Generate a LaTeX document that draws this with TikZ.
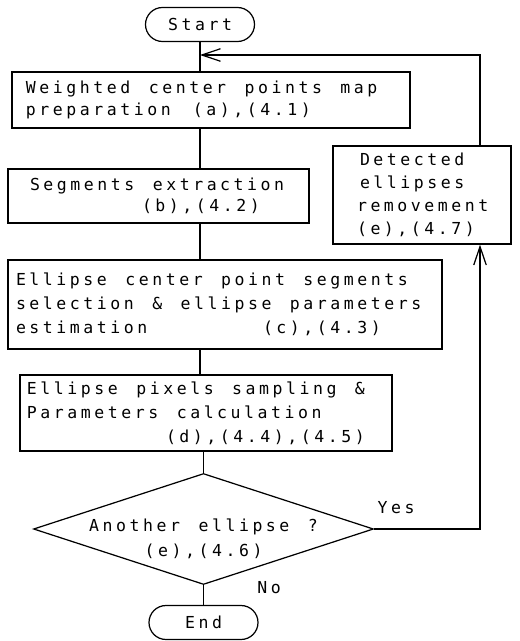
\documentclass[tikz,border=0pt]{standalone}
\usepackage{fontspec}
\newfontfamily\plotter[LetterSpace=21.5,WordSpace=1.36]{DejaVu Sans Mono}
\usetikzlibrary{shapes.geometric,arrows.meta}

\begin{document}
\begin{tikzpicture}[
        font=\plotter\fontsize{9.4}{13.6}\selectfont,
        line width=.7pt,
        procbox/.style={draw, rectangle, align=left, inner ysep=0pt,
            execute at begin node={\spaceskip=0pt\xspaceskip=0pt\relax}},
        termbox/.style={draw, rectangle, rounded corners=.34cm, minimum width=2.18cm, minimum height=.68cm},
        decision/.style={draw, diamond, aspect=3, minimum width=6.8cm, minimum height=2.22cm, inner sep=0pt},
        arr/.style={-{Straight Barb[length=.37cm,width=.25cm]}}
    ]
        \useasboundingbox (0,0) rectangle (10.38,-12.82);

        \node[termbox] (start) at (4.0,-.49) {Start};

        \node[procbox, font=\plotter\fontsize{9.4}{12.2}\selectfont, inner xsep=.28cm, text width=7.40cm, minimum height=1.12cm] (prep) at (4.22,-2.0)
            {Weighted~center~points~map\\\makebox[3.34cm][l]{preparation}(a),(4.1)};

        \node[procbox, font=\plotter\fontsize{9.4}{12.2}\selectfont, inner xsep=.44cm, text width=5.14cm, minimum height=1.08cm] (seg) at (3.17,-3.92)
            {Segments~extraction\\\hspace*{2.24cm}(b),(4.2)};

        \node[procbox, inner xsep=.16cm, text width=8.36cm, minimum height=1.78cm] (sel) at (4.50,-6.09)
            {Ellipse~center~point~segments\\selection~\&~ellipse~parameters\\\makebox[4.94cm][l]{estimation}(c),(4.3)};

        \node[procbox, inner xsep=.14cm, text width=7.16cm, minimum height=1.52cm] (calc) at (4.12,-8.26)
            {Ellipse~pixels~sampling~\&\\Parameters~calculation\\\hspace*{2.78cm}(d),(4.4),(4.5)};

        \node[decision, label={[align=center, yshift=-.2cm, font=\plotter\fontsize{9.4}{14.2}\selectfont]center:{Another~ellipse~?\\(e),(4.6)}}] (another) at (4.07,-10.58) {};

        \node[termbox] (finish) at (4.07,-12.45) {End};

        \node[procbox, font=\plotter\fontsize{9.4}{13.2}\selectfont, inner xsep=.54cm, text width=2.48cm, minimum height=1.96cm] (removal) at (8.44,-3.90)
            {Detected\\ellipses\\\hspace*{-.06cm}removement\\\hspace*{-.06cm}(e),(4.7)};

        \node (yes) at (7.92,-10.16) {Yes};
        \node (no) at (5.38,-11.76) {No};

        \coordinate (loopx) at (9.60,0);
        \coordinate (merge) at (4.0,-1.10);

        \draw (start.south) -- (start.south |- prep.north);
        \draw (start.south |- prep.south) -- (start.south |- seg.north);
        \draw (start.south |- seg.south) -- (start.south |- sel.north);
        \draw (start.south |- sel.south) -- (start.south |- calc.north);
        \draw (another.north |- calc.south) -- (another.north);
        \draw (another.south) -- (finish.north);

        \draw[arr] (another.east) -| (loopx |- removal.south);
        \draw[arr] (loopx |- removal.north) |- (merge);
\end{tikzpicture}
\end{document}
